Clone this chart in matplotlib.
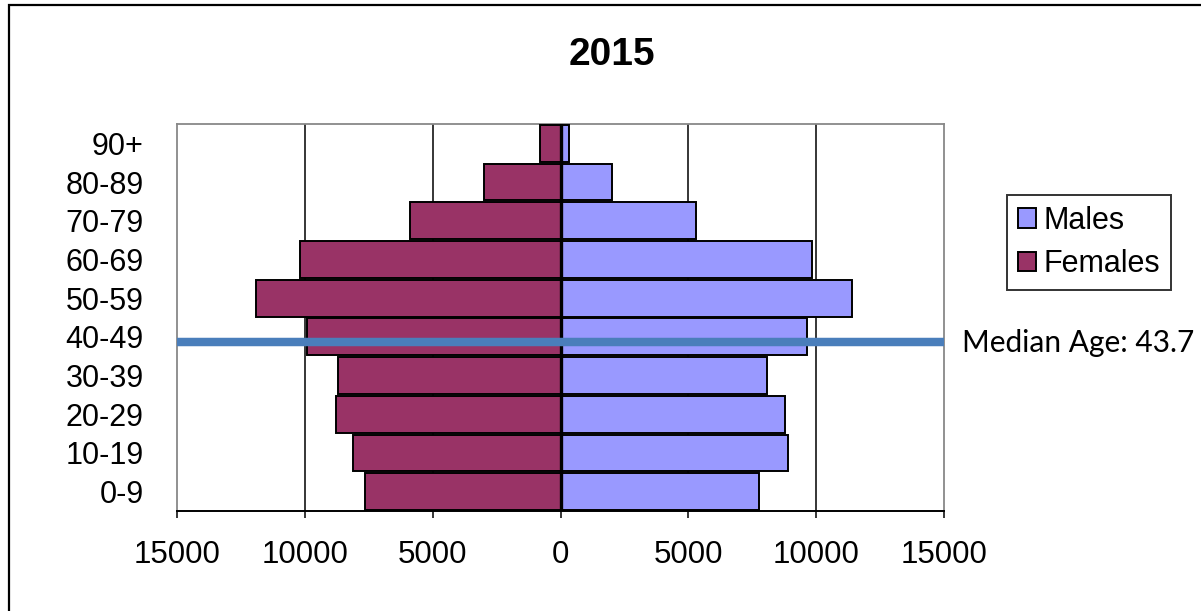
import numpy as np
import matplotlib
matplotlib.use('Agg')
import matplotlib.pyplot as plt
from matplotlib.patches import Rectangle
from matplotlib.ticker import FuncFormatter

# dados
faixas = ['0-9', '10-19', '20-29', '30-39', '40-49',
          '50-59', '60-69', '70-79', '80-89', '90+']
homens = [7780, 8880, 8780, 8080, 9650, 11400, 9850, 5300, 2030, 350]
mulheres = [7650, 8100, 8800, 8700, 9900, 11900, 10200, 5900, 3000, 800]
idade_mediana = 43.7
titulo = '2015'

cor_homens = '#9999FF'
cor_mulheres = '#993366'
cor_mediana = '#4A7EBB'

plt.rcParams['font.family'] = ['Liberation Sans', 'DejaVu Sans']

fig = plt.figure(figsize=(12.01, 6.11), dpi=100)

# moldura externa (so borda esquerda e superior aparecem)
fig.patches.append(Rectangle((9 / 1201, -0.5), 1.2, 1.5 - 5 / 611, transform=fig.transFigure,
                             fill=False, edgecolor='black', linewidth=1.6))

ax = fig.add_axes([177 / 1201, 1 - 511 / 611, (944 - 177) / 1201, (511 - 124) / 611])

y = np.arange(len(faixas))
ax.barh(y, homens, height=0.95, color=cor_homens, edgecolor='black',
        linewidth=1.4, label='Males', zorder=3)
ax.barh(y, -np.array(mulheres), height=0.95, color=cor_mulheres, edgecolor='black',
        linewidth=1.4, label='Females', zorder=3)

# linha da idade mediana (posicao dentro da faixa 40-49)
pos_mediana = (idade_mediana // 10) + (idade_mediana % 10) / 10 - 0.5
ax.plot([-15000, 15000], [pos_mediana, pos_mediana], color=cor_mediana,
        linewidth=6.1, solid_capstyle='butt', zorder=5, clip_on=False)

ax.set_xlim(-15000, 15000)
ax.set_ylim(-0.5, len(faixas) - 0.5)
ax.set_xticks([-15000, -10000, -5000, 0, 5000, 10000, 15000])
ax.xaxis.set_major_formatter(FuncFormatter(lambda v, p: f'{abs(v):.0f}'))
ax.set_yticks(y)
ax.set_yticklabels(faixas)

for xv in [-10000, -5000, 5000, 10000]:
    ax.axvline(xv, color='black', linewidth=1.1, zorder=1)
ax.axvline(0, color='black', linewidth=2.4, zorder=4)

for lado in ['left', 'top', 'right']:
    ax.spines[lado].set_color('#888888')
    ax.spines[lado].set_linewidth(1.3)
ax.spines['bottom'].set_color('black')
ax.spines['bottom'].set_linewidth(1.4)

ax.tick_params(axis='x', length=5, width=1.1, direction='out', pad=16, labelsize=22.5)
ax.tick_params(axis='y', length=0, pad=24, labelsize=22)

fig.text(612 / 1201, 1 - 55 / 611, titulo, ha='center', va='center',
         fontsize=28, fontweight='bold')

handles, labels = ax.get_legend_handles_labels()
leg = fig.legend(handles, labels, loc='upper left',
                 bbox_to_anchor=(1007 / 1201, 1 - 195 / 611),
                 fontsize=22, fancybox=False, frameon=True, borderaxespad=0,
                 handlelength=0.6, handleheight=0.6, handletextpad=0.25,
                 borderpad=0.35, labelspacing=0.45)
leg.get_frame().set_edgecolor('black')
leg.get_frame().set_linewidth(1.4)

fig.text(962 / 1201, 1 - 343 / 611, f'Median Age: {idade_mediana}', ha='left',
         va='center', fontsize=21.5, family=['Lato', 'DejaVu Sans'])

fig.savefig('out.png', dpi=100)
